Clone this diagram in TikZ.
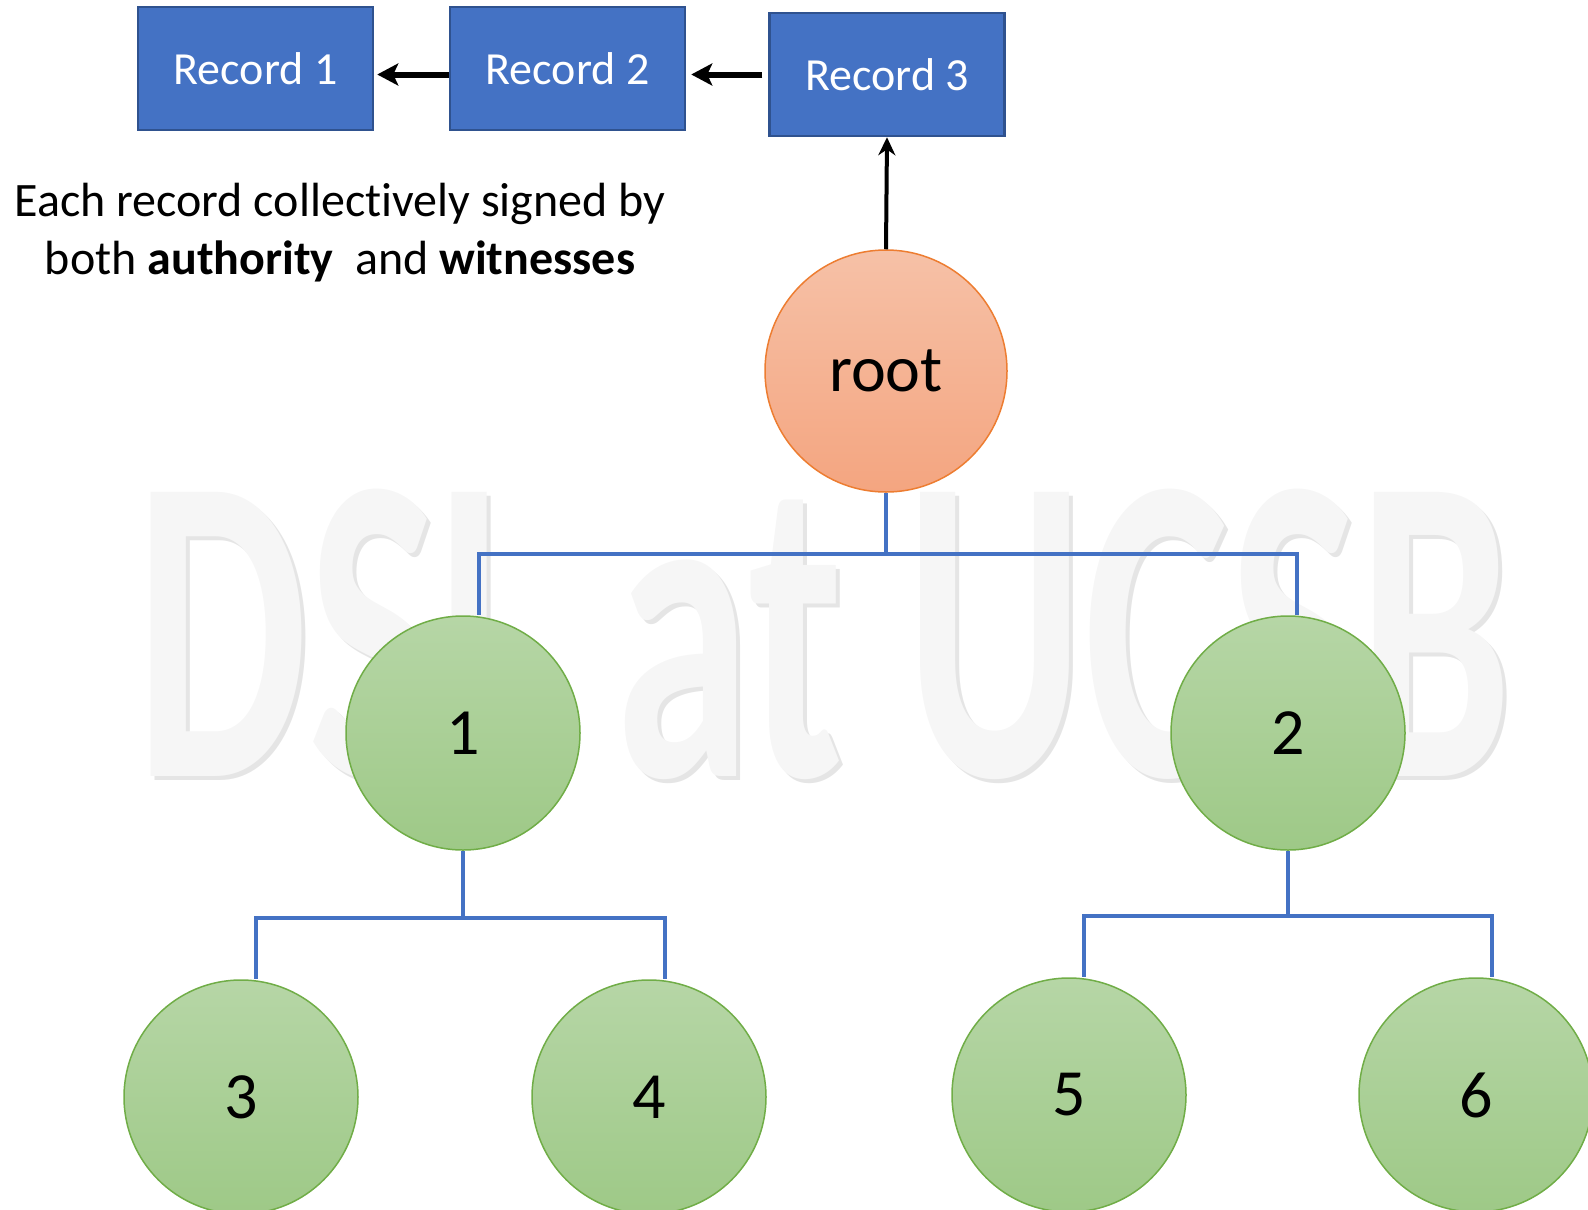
\documentclass[tikz,border=0pt]{standalone}
\usepackage{fontspec}
\setmainfont{Carlito}[Ligatures=NoCommon]
\usetikzlibrary{arrows.meta,calc}
\definecolor{recblue}{RGB}{68,114,196}
\definecolor{recedge}{RGB}{47,82,143}
\definecolor{roottop}{RGB}{246,193,167}
\definecolor{rootbot}{RGB}{244,165,128}
\definecolor{rootedge}{RGB}{237,125,49}
\definecolor{leaftop}{RGB}{182,214,166}
\definecolor{leafbot}{RGB}{158,201,135}
\definecolor{leafedge}{RGB}{112,173,71}

\begin{document}
\begin{tikzpicture}[x=1pt, y=-1pt,
    record/.style={draw=recedge, line width=2.5pt, fill=recblue, text=white,
        minimum width=235pt, minimum height=123pt, inner sep=0pt,
        font=\fontsize{46}{50}\selectfont},
    rootnode/.style={circle, draw=rootedge, line width=1.5pt, top color=roottop,
        bottom color=rootbot, minimum size=242pt, inner sep=0pt,
        font=\fontsize{66}{70}\selectfont},
    leaf/.style={circle, draw=leafedge, line width=1.5pt, top color=leaftop,
        bottom color=leafbot, minimum size=234pt, inner sep=0pt,
        font=\fontsize{66}{70}\selectfont},
    chain/.style={-{Stealth[length=21pt, width=22pt, inset=5pt]}, line width=6pt},
    treeline/.style={draw=recblue, line width=3.5pt},
    watermark/.style={inner sep=0pt, anchor=base, yscale=1.6, transform shape,
        font=\fontsize{274}{276}\selectfont\bfseries}
]
    \useasboundingbox (0,0) rectangle (1588,1210);
    \clip (0,0) rectangle (1588,1210);

    % Watermark behind everything
    \node[watermark, text=gray!20] (wmshade) at (828,780) {DSL at UCSB};
    \node[watermark, text=gray!7] (wm) at (824,776) {DSL at UCSB};

    % Chain of records
    \node[record] (r1) at (255.5,68.5) {Record 1};
    \node[record] (r2) at (567.5,68.5) {Record 2};
    \node[record] (r3) at (887,74.5) {Record 3};

    \draw[chain, shorten <=6pt, shorten >=5pt] (r3.west) -- (r3.west -| r2.east);
    \draw[chain, shorten >=3pt] ([yshift=-6pt]r2.west) -- ([yshift=-6pt]r2.west -| r1.east);

    % Caption
    \node[align=center, font=\fontsize{48}{58}\selectfont] (sig) at (340,233)
        {Each record collectively signed by\\both \textbf{authority} \ and \textbf{witnesses}};

    % Tree
    \node[rootnode] (root) at (886,371) {root};
    \node[leaf] (n1) at (463,733) {1};
    \node[leaf] (n2) at (1288,733) {2};
    \node[leaf] (n3) at (241,1097) {3};
    \node[leaf] (n4) at (649,1097) {4};
    \node[leaf] (n5) at (1069,1095) {5};
    \node[leaf] (n6) at (1476,1095) {6};

    \draw[-{Stealth[length=18pt, width=17pt]}, line width=4pt] (root.north) -- (r3.south);

    \draw[treeline] (root.south) -- ++(0,61) coordinate (rj) -| ([xshift=16pt]n1.north);
    \draw[treeline] (rj) -| ([xshift=9pt]n2.north);
    \draw[treeline] (n1.south) -- ++(0,67) coordinate (j1) -| ([xshift=15pt]n3.north);
    \draw[treeline] (j1) -| ([xshift=16pt]n4.north);
    \draw[treeline] (n2.south) -- ++(0,65) coordinate (j2) -| ([xshift=15pt]n5.north);
    \draw[treeline] (j2) -| ([xshift=16pt]n6.north);

\end{tikzpicture}
\end{document}
